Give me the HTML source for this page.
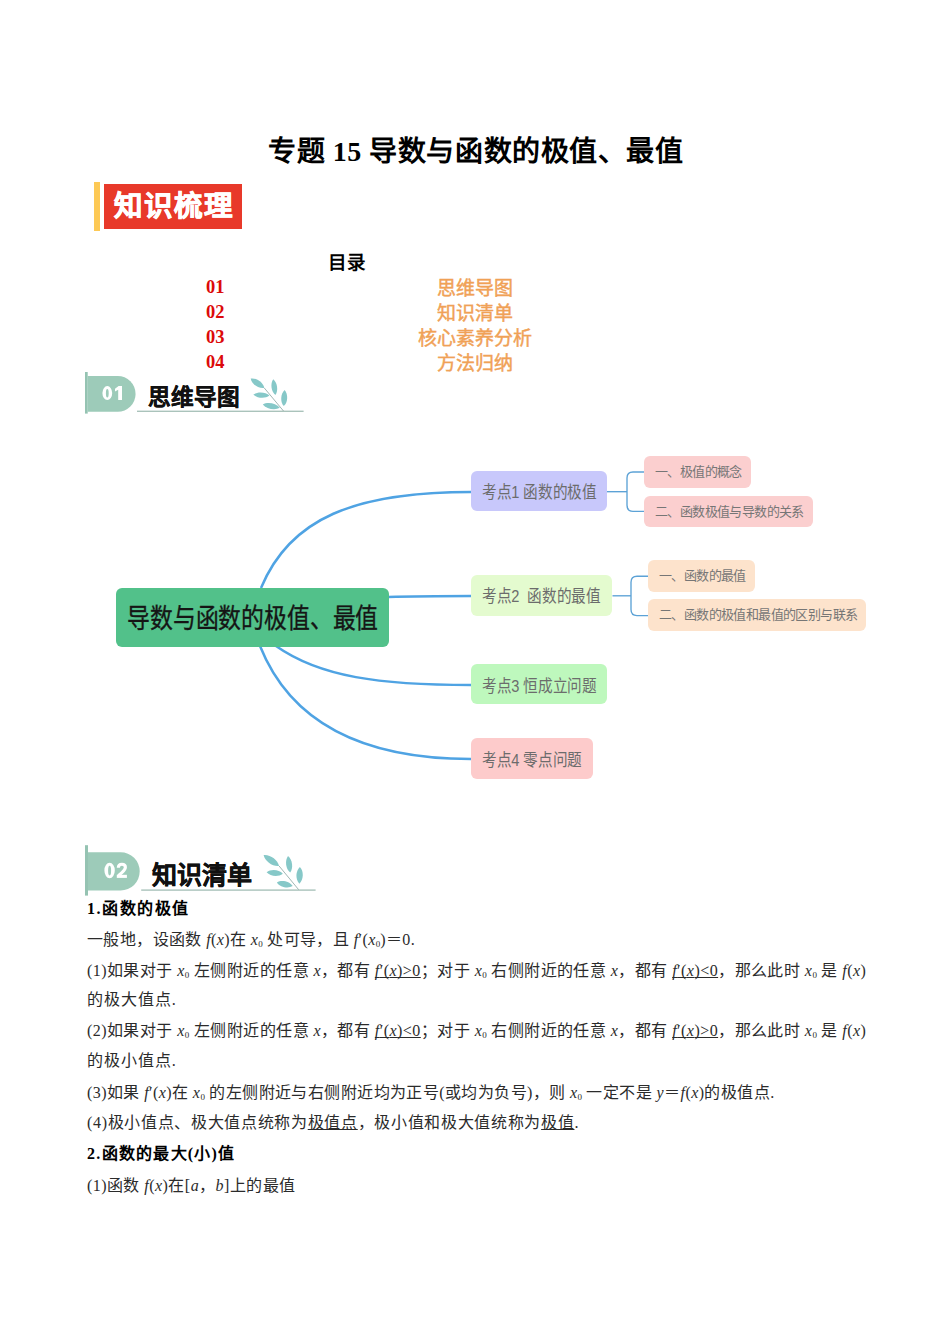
<!DOCTYPE html>
<html lang="zh-CN"><head><meta charset="utf-8">
<style>
html,body{margin:0;padding:0;background:#fff;}
body{width:950px;height:1344px;position:relative;overflow:hidden;font-family:"Liberation Serif",serif;color:#000;}
.a{position:absolute;white-space:nowrap;}
.title{left:268px;top:134px;font-size:28px;letter-spacing:0.56px;font-weight:bold;line-height:36px;}
.toc{font-size:18.5px;line-height:22px;font-weight:bold;}
.num{color:#dc0a0a;}
.org{color:#f0a156;font-size:19px;font-weight:normal;-webkit-text-stroke:0.45px #f0a156;}
.sans{font-family:"Liberation Sans",sans-serif;}
.node{position:absolute;border-radius:6px;font-family:"Liberation Sans",sans-serif;color:#555;box-sizing:border-box;white-space:nowrap;}
.k{color:#6c6c6c;}
.t{position:absolute;white-space:nowrap;transform-origin:0 0;}
.k .t{left:11px;top:12.5px;font-size:17px;line-height:20px;transform:scaleX(0.86);}
.s{font-size:13px;line-height:31px;padding-left:11px;letter-spacing:-0.6px;color:#767676;}
.body{font-size:16px;line-height:20px;letter-spacing:0.5px;color:#2b2b2b;}
i{font-style:italic;}
sub{font-size:9px;vertical-align:-1.5px;line-height:0;letter-spacing:0;}
u{text-decoration:underline;text-underline-offset:1px;text-decoration-skip-ink:none;}
</style></head><body>

<div class="a title">专题 15 导数与函数的极值、最值</div>

<!-- 知识梳理 banner -->
<div class="a" style="left:94px;top:182px;width:5.5px;height:48.6px;background:#fdc955;"></div>
<div class="a sans" style="left:104px;top:184px;width:138px;height:45px;background:#e8392a;color:#fff;font-size:28.5px;font-weight:bold;line-height:45px;text-align:center;letter-spacing:1px;text-indent:2px;-webkit-text-stroke:0.7px #fff;">知识梳理</div>

<!-- TOC -->
<div class="a toc" style="left:327.5px;top:252px;">目录</div>
<div class="a toc num" style="left:206px;top:276px;">01</div>
<div class="a toc num" style="left:206px;top:301px;">02</div>
<div class="a toc num" style="left:206px;top:326px;">03</div>
<div class="a toc num" style="left:206px;top:351px;">04</div>
<div class="a toc org" style="left:375px;width:200px;text-align:center;top:277.5px;">思维导图</div>
<div class="a toc org" style="left:375px;width:200px;text-align:center;top:302.5px;">知识清单</div>
<div class="a toc org" style="left:375px;width:200px;text-align:center;top:327.5px;">核心素养分析</div>
<div class="a toc org" style="left:375px;width:200px;text-align:center;top:352.5px;">方法归纳</div>

<!-- Section header 01 -->
<svg class="a" style="left:0;top:0" width="950" height="1344" viewBox="0 0 950 1344">
    <rect x="85" y="372" width="2.70" height="41.60" fill="#95c3b2"/>
    <path d="M87.7 376 H117.70 A17.90 17.90 0 0 1 117.70 411.8 H87.7 Z" fill="#9dcbb9"/>
    <rect x="137" y="410.60" width="166.60" height="1.4" fill="#aac3bb"/>
    <path d="M264.3 388 L283.5 411" stroke="#789792" stroke-width="0.7" fill="none"/>
    <g fill="#86c8c8">
      <path transform="translate(257.50 383.25) rotate(34.9)" d="M-8.29 0 C-4.15 -4.09 4.15 -4.09 8.29 0 C4.15 4.09 -4.15 4.09 -8.29 0Z"/>
      <path transform="translate(274.30 387.10) rotate(82.1)" d="M-7.98 0 C-3.99 -3.70 3.99 -3.70 7.98 0 C3.99 3.70 -3.99 3.70 -7.98 0Z"/>
      <path transform="translate(261.40 395.10) rotate(3.5)" d="M-8.12 0 C-4.06 -3.56 4.06 -3.56 8.12 0 C4.06 3.56 -4.06 3.56 -8.12 0Z"/>
      <path transform="translate(284.20 398.00) rotate(92.8)" d="M-8.11 0 C-4.05 -3.96 4.05 -3.96 8.11 0 C4.05 3.96 -4.05 3.96 -8.11 0Z"/>
      <path transform="translate(271.30 406.10) rotate(11.3)" d="M-8.67 0 C-4.33 -3.70 4.33 -3.70 8.67 0 C4.33 3.70 -4.33 3.70 -8.67 0Z"/>
    </g>
</svg>
<svg class="a" style="left:0;top:0" width="950" height="1344" viewBox="0 0 950 1344">
  <path fill="#fff" fill-rule="evenodd" d="M102.4 393.05 A4.9 6.95 0 1 0 112.2 393.05 A4.9 6.95 0 1 0 102.4 393.05 Z M105.9 393.15 A1.4 4.25 0 1 0 108.7 393.15 A1.4 4.25 0 1 0 105.9 393.15 Z"/>
  <path fill="#fff" d="M115 388.8 L118.6 386.1 H122 V400 H118.2 V389.8 L115 391.6 Z"/>
</svg>
<div class="a sans" style="left:148px;top:382.5px;font-size:22.6px;font-weight:bold;-webkit-text-stroke:0.35px #111;color:#111;line-height:30px;">思维导图</div>

<!-- Mind map -->
<svg class="a" style="left:0;top:0" width="950" height="1344" viewBox="0 0 950 1344">
  <g fill="none" stroke="#4fa3e3" stroke-width="2.5">
    <path d="M261 588 C290 518 355 492 471 492"/>
    <path d="M388 597 C420 596 440 596 471 596"/>
    <path d="M276 646 C320 677 380 685 471 685"/>
    <path d="M260 646 C290 721 360 759 471 759"/>
  </g>
  <g fill="none" stroke="#5ca2d6" stroke-width="1.35">
    <path d="M607 491.7 H627"/>
    <path d="M645 472 H633 Q627 472 627 478 V505.3 Q627 511.3 633 511.3 H645"/>
    <path d="M612.5 595.8 H631"/>
    <path d="M649 576.2 H637 Q631 576.2 631 582.2 V609.6 Q631 615.6 637 615.6 H649"/>
  </g>
</svg>
<div class="node" style="left:116px;top:588px;width:273px;height:59px;background:#52c18a;"><span class="t" style="left:11px;top:15.7px;font-size:27px;line-height:30px;color:#151515;transform:scaleX(0.846);-webkit-text-stroke:0.35px #151515;">导数与函数的极值、最值</span></div>

<div class="node k" style="left:471px;top:470.8px;width:136px;height:40.6px;background:#c8c8fb;"><span class="t">考点1 函数的极值</span></div>
<div class="node k" style="left:471px;top:574.7px;width:141px;height:41px;background:#e4fbcf;"><span class="t">考点2&nbsp; 函数的最值</span></div>
<div class="node k" style="left:471px;top:664px;width:136px;height:40.4px;background:#bef8bd;"><span class="t">考点3 恒成立问题</span></div>
<div class="node k" style="left:471px;top:738px;width:122px;height:40.5px;background:#fdcbcb;"><span class="t">考点4 零点问题</span></div>

<div class="node s" style="left:644px;top:455.8px;width:107px;height:31.8px;background:#fbcfcf;">一、极值的概念</div>
<div class="node s" style="left:644px;top:495.5px;width:169px;height:31.4px;background:#fbcfcf;">二、函数极值与导数的关系</div>
<div class="node s" style="left:648px;top:560px;width:107px;height:31.6px;background:#fde3cc;">一、函数的最值</div>
<div class="node s" style="left:648px;top:599.2px;width:218px;height:31.6px;background:#fde3cc;">二、函数的极值和最值的区别与联系</div>

<!-- Section header 02 -->
<svg class="a" style="left:0;top:0" width="950" height="1344" viewBox="0 0 950 1344">
    <rect x="85" y="845.2" width="3.00" height="50.40" fill="#95c3b2"/>
    <path d="M88 852.2 H120.55 A19.15 19.15 0 0 1 120.55 890.5 H88 Z" fill="#9dcbb9"/>
    <rect x="141.2" y="889.40" width="174.40" height="1.4" fill="#aac3bb"/>
    <path d="M279.1 866 L298.6 889.6" stroke="#789792" stroke-width="0.7" fill="none"/>
    <g fill="#86c8c8">
      <path transform="translate(271.35 860.50) rotate(35.4)" d="M-9.50 0 C-4.75 -4.36 4.75 -4.36 9.50 0 C4.75 4.36 -4.75 4.36 -9.50 0Z"/>
      <path transform="translate(289.10 864.30) rotate(82.5)" d="M-8.37 0 C-4.19 -3.96 4.19 -3.96 8.37 0 C4.19 3.96 -4.19 3.96 -8.37 0Z"/>
      <path transform="translate(274.70 873.00) rotate(4.9)" d="M-8.13 0 C-4.07 -3.83 4.07 -3.83 8.13 0 C4.07 3.83 -4.07 3.83 -8.13 0Z"/>
      <path transform="translate(299.60 875.40) rotate(92.1)" d="M-8.31 0 C-4.15 -4.22 4.15 -4.22 8.31 0 C4.15 4.22 -4.15 4.22 -8.31 0Z"/>
      <path transform="translate(284.80 884.25) rotate(13.2)" d="M-8.11 0 C-4.06 -3.96 4.06 -3.96 8.11 0 C4.06 3.96 -4.06 3.96 -8.11 0Z"/>
    </g>
</svg>
<svg class="a" style="left:0;top:0" width="950" height="1344" viewBox="0 0 950 1344">
  <path fill="#fff" fill-rule="evenodd" d="M104.4 870.45 A5.2 7.75 0 1 0 114.8 870.45 A5.2 7.75 0 1 0 104.4 870.45 Z M108.1 870.6 A1.5 4.9 0 1 0 111.1 870.6 A1.5 4.9 0 1 0 108.1 870.6 Z"/>
  <rect fill="#fff" x="116.8" y="874.8" width="10.1" height="3.1"/>
  <path fill="none" stroke="#fff" stroke-width="3.1" d="M118.3 867.8 C118.4 865.3 119.9 864.25 121.9 864.25 C124.1 864.25 125.4 865.5 125.4 867.3 C125.4 869.3 124.1 870.7 121.9 872.6 L118.4 875.6"/>
</svg>
<div class="a sans" style="left:152px;top:859px;font-size:25px;font-weight:bold;-webkit-text-stroke:0.4px #111;color:#111;line-height:32px;">知识清单</div>

<!-- Body -->
<div class="a body" id="L1" style="left:87px;top:898.5px;font-weight:bold;color:#000;letter-spacing:1.5px;">1.函数的极值</div>
<div class="a body" id="L2" style="left:87px;top:930px;letter-spacing:0.4px;">一般地，设函数 <i>f</i>(<i>x</i>)在 <i>x</i><sub>0</sub> 处可导，且 <i>f</i>′(<i>x</i><sub>0</sub>)＝0.</div>
<div class="a body" id="L3" style="left:87px;top:961px;letter-spacing:0.455px;">(1)如果对于 <i>x</i><sub>0</sub> 左侧附近的任意 <i>x</i>，都有 <u><i>f</i>′(<i>x</i>)&gt;0</u>；对于 <i>x</i><sub>0</sub> 右侧附近的任意 <i>x</i>，都有 <u><i>f</i>′(<i>x</i>)&lt;0</u>，那么此时 <i>x</i><sub>0</sub> 是 <i>f</i>(<i>x</i>)</div>
<div class="a body" id="L4" style="left:87px;top:990px;letter-spacing:0.95px;">的极大值点.</div>
<div class="a body" id="L5" style="left:87px;top:1021.3px;letter-spacing:0.455px;">(2)如果对于 <i>x</i><sub>0</sub> 左侧附近的任意 <i>x</i>，都有 <u><i>f</i>′(<i>x</i>)&lt;0</u>；对于 <i>x</i><sub>0</sub> 右侧附近的任意 <i>x</i>，都有 <u><i>f</i>′(<i>x</i>)&gt;0</u>，那么此时 <i>x</i><sub>0</sub> 是 <i>f</i>(<i>x</i>)</div>
<div class="a body" id="L6" style="left:87px;top:1051px;letter-spacing:0.95px;">的极小值点.</div>
<div class="a body" id="L7" style="left:87px;top:1082.6px;letter-spacing:0.42px;">(3)如果 <i>f</i>′(<i>x</i>)在 <i>x</i><sub>0</sub> 的左侧附近与右侧附近均为正号(或均为负号)，则 <i>x</i><sub>0</sub> 一定不是 <i>y</i>＝<i>f</i>(<i>x</i>)的极值点.</div>
<div class="a body" id="L8" style="left:87px;top:1113px;letter-spacing:0.67px;">(4)极小值点、极大值点统称为<u>极值点</u>，极小值和极大值统称为<u>极值</u>.</div>
<div class="a body" id="L9" style="left:87px;top:1143.8px;font-weight:bold;color:#000;letter-spacing:1.25px;">2.函数的最大(小)值</div>
<div class="a body" id="L10" style="left:87px;top:1176px;letter-spacing:0.45px;">(1)函数 <i>f</i>(<i>x</i>)在[<i>a</i>，<i>b</i>]上的最值</div>

</body></html>
